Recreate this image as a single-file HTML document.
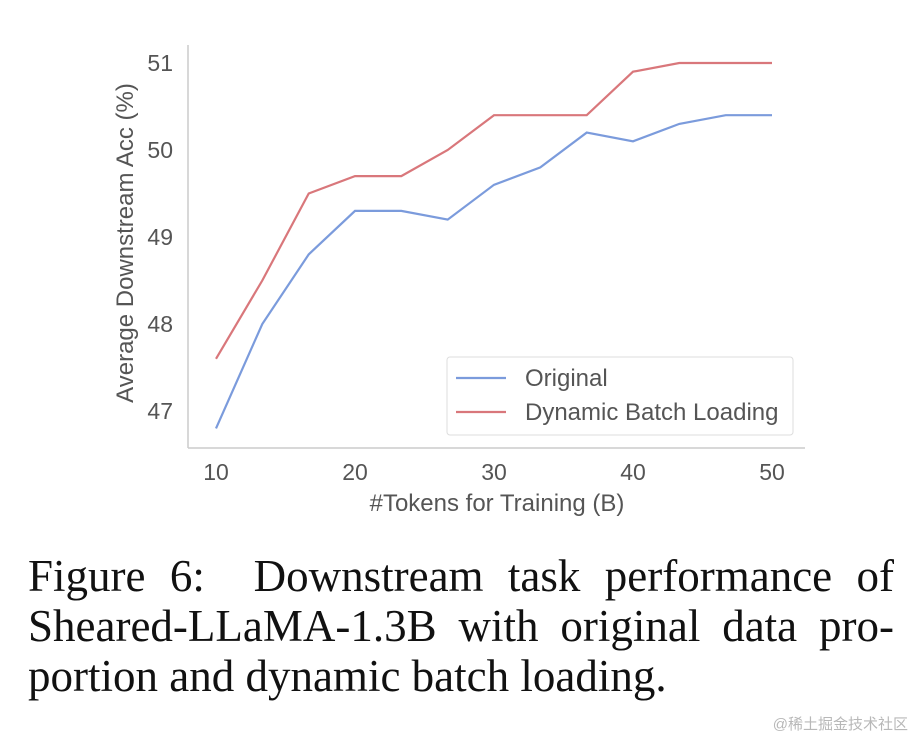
<!DOCTYPE html>
<html><head><meta charset="utf-8">
<style>
body{margin:0;background:#fff;width:916px;height:740px;overflow:hidden;position:relative;font-family:"Liberation Sans",sans-serif}
#cap{position:absolute;left:28px;top:551px;width:866px;font-family:"Liberation Serif",serif;font-size:45px;line-height:50px;color:#111}
#cap div{text-align:justify;text-align-last:justify;white-space:nowrap}
#cap div.last{text-align-last:left}
#wm{position:absolute;right:8px;bottom:6px;font-family:"Liberation Sans","Noto Sans CJK SC",sans-serif;font-size:15px;color:#b8b8b8}
</style></head><body>
<svg id="chart" width="916" height="540" style="position:absolute;left:0;top:0" font-family="Liberation Sans, sans-serif"></svg>
<div id="cap">
<div>Figure 6:&nbsp; Downstream task performance of</div>
<div>Sheared-LLaMA-1.3B with original data pro-</div>
<div class="last">portion and dynamic batch loading.</div>
</div>
<div id="wm">@稀土掘金技术社区</div>
<script>
const xValues=[10,13.33,16.67,20,23.33,26.67,30,33.33,36.67,40,43.33,46.67,50];
const originalValues=[46.8,48.0,48.8,49.3,49.3,49.2,49.6,49.8,50.2,50.1,50.3,50.4,50.4];
const dynamicValues=[47.6,48.5,49.5,49.7,49.7,50.0,50.4,50.4,50.4,50.9,51.0,51.0,51.0];
const xTicks=[10,20,30,40,50];
const yTicks=[47,48,49,50,51];
const svg=document.getElementById('chart');
const NS='http://www.w3.org/2000/svg';
const xs=v=>216+(v-10)*13.9;
const ys=v=>411-(v-47)*87;
function mk(t,a){const e=document.createElementNS(NS,t);for(const k in a)e.setAttribute(k,a[k]);svg.appendChild(e);return e;}
let e;
e=mk('line',{x1:188,y1:45,x2:188,y2:448,stroke:'#ccc','stroke-width':1.5});


e=mk('line',{x1:188,y1:448,x2:805,y2:448,stroke:'#ccc','stroke-width':1.5});


xTicks.forEach(t=>{e=mk('text',{x:xs(t),y:480,'text-anchor':'middle','font-size':23,fill:'#555'});e.textContent=t;

});
yTicks.forEach(t=>{e=mk('text',{x:173,y:ys(t)+8,'text-anchor':'end','font-size':23,fill:'#555'});e.textContent=t;

});
e=mk('text',{x:497,y:511,'text-anchor':'middle','font-size':24,fill:'#555'});e.textContent='#Tokens for Training (B)';


e=mk('text',{x:0,y:0,'text-anchor':'middle','font-size':24,fill:'#555',transform:'translate(133,243) rotate(-90)'});e.textContent='Average Downstream Acc (%)';


function line(vals,col,name){const p=vals.map((v,i)=>xs(xValues[i])+','+ys(v)).join(' ');
e=mk('polyline',{points:p,fill:'none',stroke:col,'stroke-width':2.2});

}
line(originalValues,'#7b9bdc','original-line');
line(dynamicValues,'#d9777b','dynamic-batch-loading-line');
e=mk('rect',{x:447,y:357,width:346,height:78,rx:3,fill:'#fff','fill-opacity':0.85,stroke:'#ddd'});


[['Original','#7b9bdc',378],['Dynamic Batch Loading','#d9777b',412]].forEach(([n,c,y])=>{
e=mk('line',{x1:456,y1:y,x2:506,y2:y,stroke:c,'stroke-width':2.2});


e=mk('text',{x:525,y:y+8,'font-size':24,fill:'#555'});e.textContent=n;

});
</script>
</body></html>
